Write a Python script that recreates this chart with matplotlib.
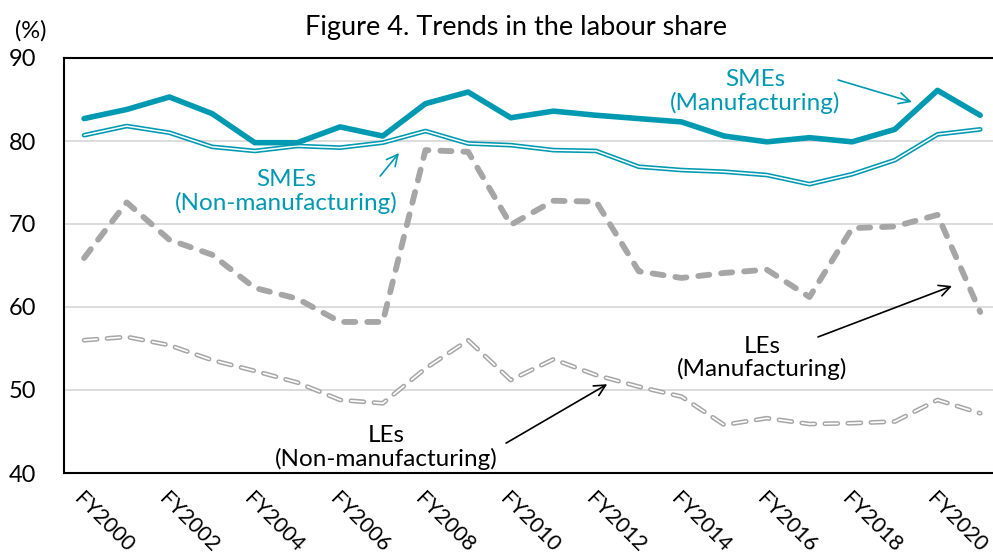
import numpy as np
import matplotlib.pyplot as plt

plt.rcParams['font.family'] = ['Lato', 'DejaVu Sans']
plt.rcParams['lines.scale_dashes'] = False

# fiscal years on the x axis
fiscal_years = np.arange(2000, 2022)
tick_years = fiscal_years[::2]
tick_labels = [f"FY{y}" for y in tick_years]

# labour share (%)
sme_mfg = [82.7, 83.8, 85.3, 83.3, 79.8, 79.8, 81.7, 80.6, 84.5, 85.9, 82.8,
           83.6, 83.1, 82.7, 82.3, 80.6, 79.9, 80.4, 79.9, 81.4, 86.1, 83.1]
sme_non = [80.7, 81.8, 81.0, 79.3, 78.8, 79.4, 79.2, 79.8, 81.2, 79.7, 79.5,
           78.9, 78.8, 76.9, 76.5, 76.3, 75.9, 74.8, 76.0, 77.7, 80.8, 81.4]
le_mfg = [65.9, 72.6, 68.1, 66.3, 62.3, 61.0, 58.2, 58.2, 78.9, 78.7, 69.9,
          72.8, 72.7, 64.3, 63.5, 64.1, 64.5, 61.2, 69.5, 69.7, 71.1, 59.4]
le_non = [56.0, 56.4, 55.4, 53.6, 52.3, 50.9, 48.8, 48.4, 52.6, 56.0, 51.2,
          53.7, 51.8, 50.4, 49.2, 45.8, 46.6, 45.9, 46.0, 46.2, 48.8, 47.2]

teal = '#0099B2'
grey = '#A6A6A6'

fig = plt.figure(figsize=(9.93, 5.54), dpi=100)
ax = fig.add_axes([64 / 993, 1 - 473 / 554, 1 - 64 / 993, (473 - 58) / 554])

x = np.arange(len(fiscal_years))

# LEs non-manufacturing: hollow dashes (grey outline, white core)
ax.plot(x, le_non, color=grey, lw=3.4, dashes=(9.4, 7.2),
        dash_capstyle='round', zorder=3)
ax.plot(x, le_non, color='white', lw=1.2, dashes=(9.4, 7.2),
        dash_capstyle='round', zorder=3.1)

# LEs manufacturing: thick grey dashes
ax.plot(x, le_mfg, color=grey, lw=4.2, dashes=(8.0, 8.6),
        dash_capstyle='round', zorder=3.2)

# SMEs non-manufacturing: double teal line
ax.plot(x, sme_non, color=teal, lw=3.4, solid_capstyle='round', zorder=4)
ax.plot(x, sme_non, color='white', lw=1.1, solid_capstyle='round', zorder=4.1)

# SMEs manufacturing: thick teal line
ax.plot(x, sme_mfg, color=teal, lw=4.0, solid_capstyle='round', zorder=5)

ax.set_xlim(-0.47, 21.3)
ax.set_ylim(40, 90)
ax.set_yticks([40, 50, 60, 70, 80, 90])
ax.yaxis.grid(True, color='#D9D9D9', lw=1.3)
ax.set_axisbelow(True)
ax.tick_params(axis='y', length=0, pad=20, labelsize=17)
ax.set_xticks(x[::2])
ax.set_xticklabels(tick_labels, rotation=-45, ha='left', va='top',
                   rotation_mode='anchor', fontsize=15.5)
ax.tick_params(axis='x', length=0, pad=11)

for side in ['left', 'top', 'bottom']:
    ax.spines[side].set_linewidth(1.5)
    ax.spines[side].set_color('black')
ax.spines['right'].set_visible(False)

fig.text(516 / 993, 1 - 27 / 554, 'Figure 4. Trends in the labour share',
         ha='center', va='center', fontsize=19.5)
fig.text(31 / 993, 1 - 31 / 554, '(%)', ha='center', va='center', fontsize=17)

# series labels and arrows
lab = dict(ha='center', va='center', fontsize=17.5, linespacing=1.1)
arr = dict(lw=1.2, mutation_scale=20, shrinkA=0, shrinkB=0, arrowstyle='->')

ax.text(15.73, 86.0, 'SMEs\n(Manufacturing)', color=teal, **lab)
ax.annotate('', xy=(19.40, 84.7), xytext=(17.67, 87.35),
            arrowprops=dict(color=teal, **arr))

ax.text(4.73, 73.9, 'SMEs\n(Non-manufacturing)', color=teal, **lab)
ax.annotate('', xy=(7.38, 78.55), xytext=(6.94, 75.78),
            arrowprops=dict(color=teal, **arr))

ax.text(15.89, 53.86, 'LEs\n(Manufacturing)', color='black', **lab)
ax.annotate('', xy=(20.34, 62.53), xytext=(17.20, 56.39),
            arrowprops=dict(color='black', **arr))

ax.text(7.08, 43.1, 'LEs\n(Non-manufacturing)', color='black', **lab)
ax.annotate('', xy=(12.26, 50.7), xytext=(9.89, 43.6),
            arrowprops=dict(color='black', **arr))

fig.savefig('out.png', dpi=100)
